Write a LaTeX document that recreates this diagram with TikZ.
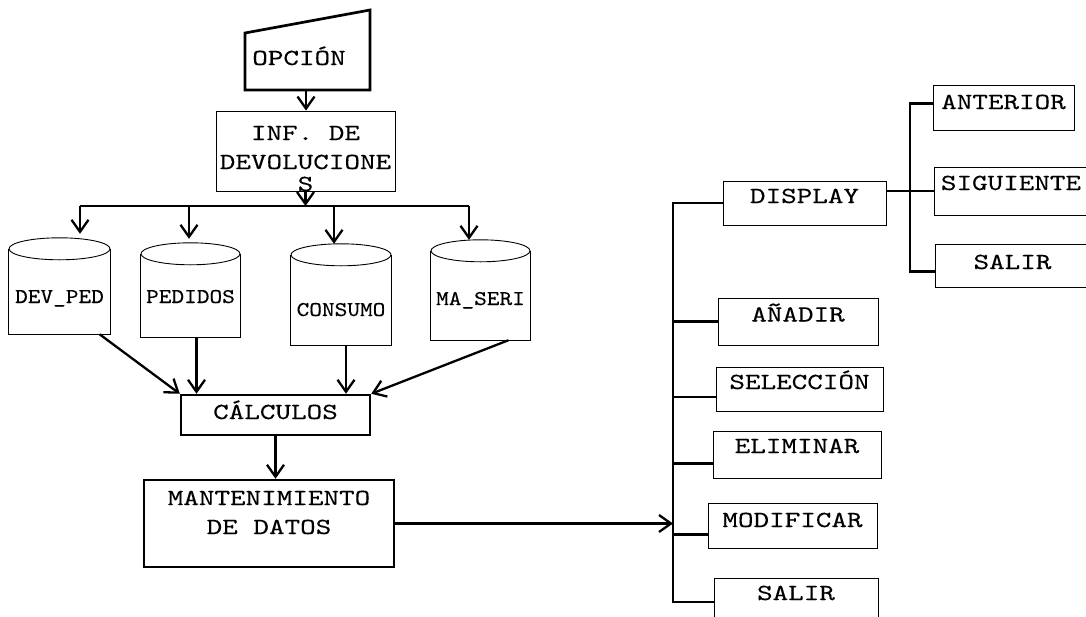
\documentclass[tikz,border=0pt]{standalone}
\usepackage{fontspec}
\usetikzlibrary{arrows.meta,calc}
\newfontfamily\tw{lmmono10-regular.otf}[FakeStretch=1.29,FakeBold=0.25]
\newfontfamily\twc{lmmono10-regular.otf}[FakeStretch=1.15,FakeBold=0.25]
\newcommand\cylout[2]{%
  \draw[thinline] ([yshift=-11pt]#1.north west) -- (#1.south west) -- (#1.south east) -- ([yshift=-11pt]#1.north east);
  \draw[thinline] ([yshift=-11pt]#1.north) ellipse [x radius=#2, y radius=11pt];}
\begin{document}
\begin{tikzpicture}[x=1pt,y=-1pt,
  thinline/.style={line width=0.9pt},
  conn/.style={line width=2.8pt},
  stub/.style={line width=2.3pt},
  arr/.style={line width=2.3pt,-{Straight Barb[length=12pt,width=17pt]}},
  mainfont/.style={font={\tw\fontsize{23}{29}\selectfont}},
  tbox/.style={draw, line width=2.5pt, inner sep=0pt, mainfont, text height=0pt, text depth=0pt},
  rbox/.style={draw, thinline, inner sep=0pt, mainfont, text height=0pt, text depth=0pt},
  cyl/.style={inner sep=0pt, font={\twc\fontsize{21}{25}\selectfont}, text depth=0pt},
]
\fill[white] (0,0) rectangle (1086,616);
\useasboundingbox (0,0) rectangle (1086,616);
\clip (0,0) rectangle (1086,616);

% OPCION (manual input)
\draw[line width=2.7pt, line join=miter] (245,33) -- (370,10) -- (370,90) -- (245,90) -- cycle;
\node[mainfont, inner sep=0pt, text height=0pt, text depth=0pt] (opcion) at (299,65) {OPCIÓN};
\coordinate (opB) at (306,90);

% INF box
\node[rbox, minimum width=179pt, minimum height=70pt, text height=80pt, align=center] (inf) at (305.5,151) {INF. DE\\DEVOLUCIONE\\[-7pt]S};
\draw[arr] (opB) -- (opB |- inf.north);

% cylinders
\node[cyl, minimum width=101pt, minimum height=96pt, text height=34pt] (devped) at (59.5,286) {DEV\_PED};
\node[cyl, minimum width=99pt, minimum height=94pt, text height=26pt] (pedidos) at (190.5,290) {PEDIDOS};
\node[cyl, minimum width=100pt, minimum height=101pt, text height=43pt] (consumo) at (341,294.5) {CONSUMO};
\node[cyl, minimum width=99pt, minimum height=100pt, text height=30pt] (maseri) at (480.5,290) {MA\_SERI};
\cylout{devped}{50.5pt}
\cylout{pedidos}{49.5pt}
\cylout{consumo}{50pt}
\cylout{maseri}{49.5pt}

% top bus
\coordinate (t1) at (80,206);
\coordinate (t2) at (189,206);
\coordinate (t3) at (334,206);
\coordinate (t4) at (469,206);
\draw[conn] (t1) -- (t4);
\draw[arr] (inf.south) -- (inf.south |- t1);
\draw[arr] (t1) -- ([yshift=4pt]t1 |- devped.north);
\draw[arr] (t2) -- ([yshift=4pt]t2 |- pedidos.north);
\draw[arr] (t3) -- (t3 |- consumo.north);
\draw[arr] (t4) -- (t4 |- maseri.north);

% CALCULOS
\node[tbox, minimum width=189pt, minimum height=40pt, text height=8pt] (calc) at (275.5,415) {CÁLCULOS};
\coordinate (p1) at ([xshift=6pt]pedidos.south);
\coordinate (c1) at ([xshift=5pt]consumo.south);
\draw[arr] ([xshift=40pt]devped.south) -- (calc.north west);
\draw[arr] (p1) -- (p1 |- calc.north);
\draw[arr] (c1) -- (c1 |- calc.north);
\draw[arr] ([xshift=28pt]maseri.south) -- (calc.north east);

% MANTENIMIENTO
\node[tbox, minimum width=250pt, minimum height=87pt, text height=21pt, align=center] (mant) at (269,523.5) {MANTENIMIENTO\\DE DATOS};
\draw[arr] (calc.south) -- (calc.south |- mant.north);

% right side boxes
\node[rbox, minimum width=163pt, minimum height=44pt] (display) at (804.5,203) {DISPLAY};
\node[rbox, minimum width=141pt, minimum height=45pt, text height=3pt] (anterior) at (1003.5,107.5) {ANTERIOR};
\node[rbox, minimum width=154pt, minimum height=48pt, text depth=2pt] (siguiente) at (1011,191) {SIGUIENTE};
\node[rbox, minimum width=155pt, minimum height=43pt, text height=7pt] (salirR) at (1012.5,265.5) {SALIR};
\node[rbox, minimum width=160pt, minimum height=47pt] (anadir) at (798,321.5) {AÑADIR};
\node[rbox, minimum width=167pt, minimum height=44pt] (seleccion) at (799.5,389) {SELECCIÓN};
\node[rbox, minimum width=168pt, minimum height=47pt, text depth=3pt] (eliminar) at (797,454.5) {ELIMINAR};
\node[rbox, minimum width=169pt, minimum height=45pt, text height=3pt] (modificar) at (792.5,525.5) {MODIFICAR};
\node[rbox, minimum width=164pt, minimum height=48pt, text depth=4pt] (salirL) at (796,602) {SALIR};

% main bus
\coordinate (mb) at (673,0);
\coordinate (selS) at ([yshift=-8pt]seleccion.west);
\coordinate (eliS) at ([yshift=-9pt]eliminar.west);
\coordinate (modS) at ([yshift=-9pt]modificar.west);
\draw[conn, line cap=rect] (mb |- display.west) -- (mb |- salirL.west);
\draw[stub] (mb |- display.west) -- (display.west);
\draw[stub] (mb |- anadir.west) -- (anadir.west);
\draw[stub] (mb |- selS) -- (selS);
\draw[stub] (mb |- eliS) -- (eliS);
\draw[stub] (mb |- modS) -- (modS);
\draw[stub] (mb |- salirL.west) -- (salirL.west);
\draw[arr] (mant.east) -- (mant.east -| mb);

% sub bus
\coordinate (sb) at (910,0);
\coordinate (antS) at ([yshift=4pt]anterior.west);
\coordinate (salS) at ([yshift=-6pt]salirR.west);
\draw[conn, line cap=rect] (sb |- antS) -- (sb |- salS);
\draw[stub] (sb |- antS) -- (antS);
\draw[stub] (sb |- salS) -- (salS);
\draw[stub] (display.east |- siguiente.west) -- (siguiente.west);
\end{tikzpicture}
\end{document}
